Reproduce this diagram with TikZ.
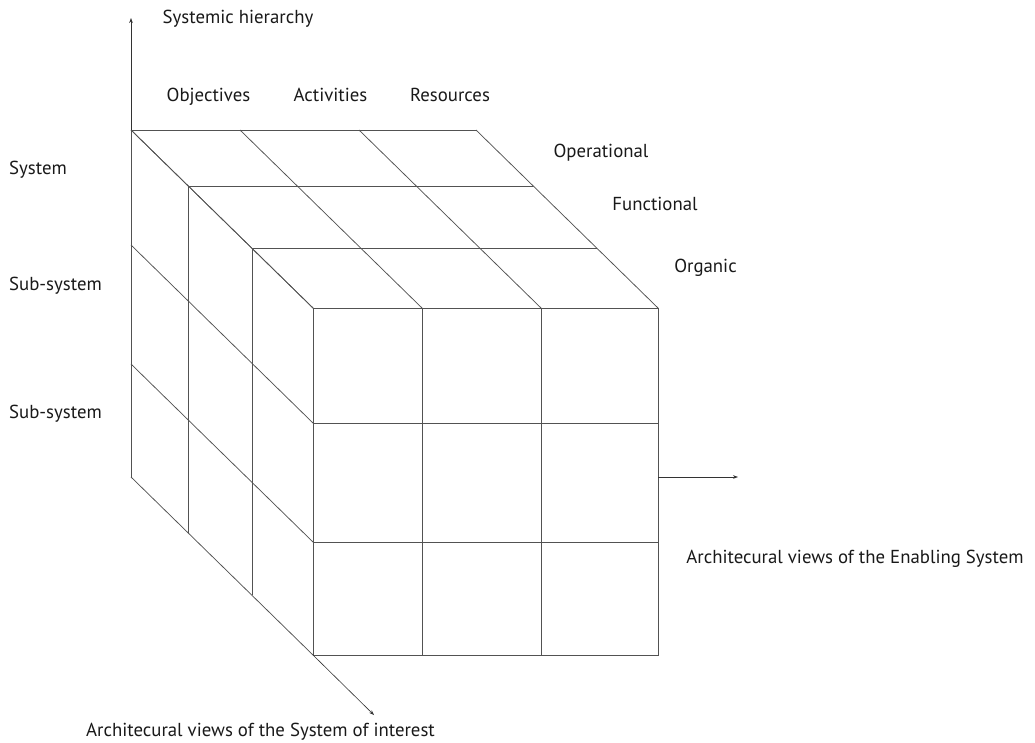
\documentclass[tikz,border=0pt]{standalone}
\usepackage{fontspec}
\setmainfont{PT Sans}
\usetikzlibrary{arrows.meta}
\begin{document}
\begin{tikzpicture}[x=1pt,y=-1pt,
  edge/.style={draw=black!68, line width=0.75pt},
  axis/.style={draw=black!80, line width=0.6pt, -{Stealth[length=5pt,width=3.6pt]}},
  lbl/.style={inner sep=0pt, anchor=base, font=\fontsize{18.8}{22}\selectfont, text=black!90},
  lblw/.style={lbl, anchor=base west}]
\useasboundingbox (0,0) rectangle (1035,742);
% cube: depth layers (top and left faces)
\foreach \dx/\dy in {0/0,-61/-60,-125/-122,-182/-178} {
  \draw[edge] (313+\dx,308+\dy) -- (658+\dx,308+\dy);
  \draw[edge] (313+\dx,308+\dy) -- (313+\dx,655+\dy);
}
\foreach \x in {313,422,541,658} \draw[edge] (\x,308) -- (\x-182,130);
\foreach \y in {308,423,542,655} \draw[edge] (313,\y) -- (131,\y-178);
% front face
\draw[edge] (313,308) rectangle (658,655);
\foreach \x in {422,541} \draw[edge] (\x,308) -- (\x,655);
\foreach \y in {423,542} \draw[edge] (313,\y) -- (658,\y);
% axes
\coordinate (origin) at (131,130);
\coordinate (upend) at (131,18);
\coordinate (rightstart) at (658,477);
\coordinate (rightend) at (738,477);
\coordinate (corner) at (313,655);
\coordinate (diagend) at (374,715);
\draw[axis] (origin) -- (upend);
\draw[axis] (rightstart) -- (rightend);
\draw[axis] (corner) -- (diagend);
% labels
\node[lbl] (sh) at (238,23) {Systemic hierarchy};
\node[lbl] (obj) at (208.5,101) {Objectives};
\node[lbl] (act) at (330.5,101) {Activities};
\node[lbl] (res) at (450,101) {Resources};
\node[lbl] (op) at (601,157) {Operational};
\node[lbl] (fu) at (655,210) {Functional};
\node[lbl] (org) at (705.5,272) {Organic};
\node[lblw] (sys) at (9,174) {System};
\node[lblw] (sub1) at (9,290) {Sub-system};
\node[lblw] (sub2) at (9,418) {Sub-system};
\node[lbl] (enab) at (855,563) {Architecural views of the Enabling System};
\node[lbl] (soi) at (260.5,736.5) {Architecural views of the System of interest};
\end{tikzpicture}
\end{document}
